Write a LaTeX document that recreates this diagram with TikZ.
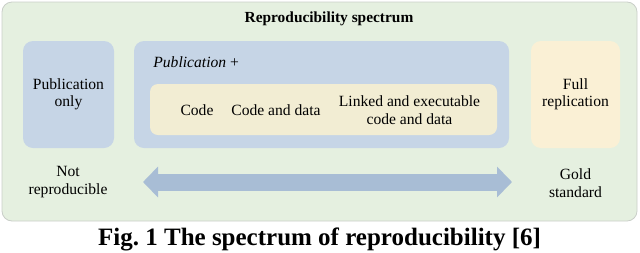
\documentclass[tikz,border=0pt]{standalone}
\usepackage{fontspec}
\setmainfont{Liberation Serif}
\usetikzlibrary{arrows.meta}
\definecolor{bgreen}{HTML}{E5F0E0}
\definecolor{bline}{HTML}{C9CEC8}
\definecolor{pblue}{HTML}{C6D5E6}
\definecolor{pyel}{HTML}{F2EDD3}
\definecolor{fyel}{HTML}{FAF0D5}
\definecolor{arrblue}{HTML}{A8BDD5}

\begin{document}
\begin{tikzpicture}[x=0.5pt,y=-0.5pt,
  txt/.style={font=\rmfamily\fontsize{7.8pt}{8.7pt}\selectfont,align=center,inner sep=0pt},
  outer/.style={rectangle,draw=bline,line width=0.4pt,fill=bgreen,rounded corners=5pt,inner sep=0pt},
  stage/.style={rectangle,fill=pblue,rounded corners=5pt,minimum height=53.5pt,inner sep=0pt,txt},
  gold/.style={rectangle,fill=fyel,rounded corners=5pt,minimum height=53.5pt,inner sep=0pt,txt},
  tools/.style={rectangle,fill=pyel,rounded corners=4pt,minimum height=25.5pt,minimum width=173.5pt,inner sep=0pt},
  spec/.style={arrblue,line width=8.5pt,{Triangle[width=15pt,length=7.5pt]}-{Triangle[width=15pt,length=7.5pt]}}]
  \useasboundingbox (0,0) rectangle (640,252);
  \node[outer,minimum width=317.5pt,minimum height=109.5pt] (frame) at (319.5,111.5) {};
  \node[txt,font=\rmfamily\fontsize{7.7pt}{8.7pt}\selectfont\bfseries] (title) at (329,19) {Reproducibility spectrum};
  \node[stage,minimum width=45.5pt] (pub) at (68.5,94.5) {Publication\\only};
  \node[stage,minimum width=187.5pt] (plus) at (321.5,94.5) {};
  \node[txt,anchor=west] (plab) at (153,62) {\textit{Publication} +};
  \node[tools] (inner) at (323.5,109.5) {};
  \node[txt] (code) at (197,110) {Code};
  \node[txt] (cdata) at (276,110) {Code and data};
  \node[txt] (linked) at (409.5,110) {Linked and executable\\code and data};
  \node[gold,minimum width=44.5pt] (full) at (575.5,94.5) {Full\\replication};
  % spectrum arrow
  \coordinate (lo) at (143,182);
  \coordinate (hi) at (512,182);
  \draw[spec] (lo) -- (hi);
  \node[txt] (notrep) at (68,182) {Not\\reproducible};
  \node[txt] (goldstd) at (575.5,183) {Gold\\standard};
  \node[inner sep=0pt,font=\rmfamily\fontsize{12.5pt}{14pt}\selectfont\bfseries] (cap) at (319.5,239) {Fig.~1 The spectrum of reproducibility [6]};
\end{tikzpicture}
\end{document}
